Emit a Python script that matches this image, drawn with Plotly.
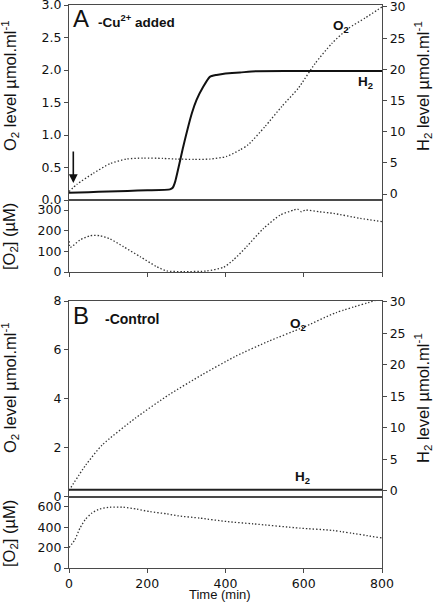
import plotly.graph_objects as go

# ---------------- data ----------------
# Panel A (-Cu2+ added), upper plot
a_o2_time = [0, 20, 62, 105, 147, 190, 240, 275, 320, 360, 403, 437, 458, 501, 544, 586, 629, 672, 714, 757, 800]
a_o2_level = [0.13, 0.24, 0.41, 0.56, 0.63, 0.645, 0.64, 0.63, 0.625, 0.63, 0.67, 0.77, 0.85, 1.13, 1.44, 1.72, 2.10, 2.41, 2.64, 2.80, 2.97]

a_h2_time = [0, 50, 100, 150, 200, 258, 265, 271, 292, 314, 326, 343, 360, 377, 400, 437, 480, 600, 700, 800]
a_h2_level = [0.2, 0.3, 0.4, 0.5, 0.6, 0.75, 1.0, 1.9, 7.6, 12.95, 15.1, 17.2, 18.8, 19.1, 19.35, 19.5, 19.7, 19.72, 19.72, 19.72]

# Panel A, lower plot: dissolved O2 (µM)
a_do_time = [0, 3, 28, 54, 79, 105, 139, 182, 224, 250, 293, 352, 395, 420, 454, 497, 540, 574, 584, 594, 604, 640, 676, 744, 800]
a_do_conc = [150, 119, 155, 176, 176, 160, 123, 74, 26, 5, 2, 5, 23, 58, 123, 211, 276, 300, 305, 292, 300, 292, 284, 260, 244]

# Panel B (-Control), upper plot
b_o2_time = [0, 43, 85, 170, 256, 341, 426, 511, 597, 682, 800]
b_o2_level = [0.25, 1.29, 2.11, 3.21, 4.17, 4.99, 5.74, 6.36, 6.91, 7.52, 8.1]

b_h2_time = [0, 200, 400, 600, 800]
b_h2_level = [0.15, 0.15, 0.15, 0.15, 0.15]

# Panel B, lower plot: dissolved O2 (µM)
b_do_time = [0, 15, 28, 41, 58, 79, 105, 139, 173, 207, 250, 280, 335, 403, 471, 591, 676, 800]
b_do_conc = [200, 277, 390, 471, 537, 578, 595, 595, 576, 552, 530, 510, 488, 455, 432, 390, 367, 293]

x_ticks = [0, 200, 400, 600, 800]
a_left_ticks = [0.0, 0.5, 1.0, 1.5, 2.0, 2.5, 3.0]
a_right_ticks = [0, 5, 10, 15, 20, 25, 30]
a_do_ticks = [0, 100, 200, 300]
b_left_ticks = [0, 2, 4, 6, 8]
b_right_ticks = [0, 5, 10, 15, 20, 25, 30]
b_do_ticks = [0, 200, 400, 600]

# ---------------- layout geometry ----------------
W, H = 435, 602
L, R, T, B = 69, 53, 5, 34
PW, PH = W - L - R, H - T - B


def px(x):
    return (x - L) / PW


def py(y):
    return (H - B - y) / PH


AXC = "#4a4a4a"
TXT = "#111111"
TICKFONT = dict(family="DejaVu Sans", size=12.5, color=TXT)
FONT = "Liberation Sans, Arial, sans-serif"
DOT = "1.4px,2px"

fig = go.Figure()

# Panel A
fig.add_trace(go.Scatter(x=a_o2_time, y=a_o2_level, mode="lines", xaxis="x", yaxis="y",
                         line=dict(color="#333", width=1.3, dash=DOT, shape="spline", smoothing=0.6)))
fig.add_trace(go.Scatter(x=a_h2_time, y=a_h2_level, mode="lines", xaxis="x", yaxis="y2",
                         line=dict(color="#111", width=2, shape="spline", smoothing=0.5)))
fig.add_trace(go.Scatter(x=a_do_time, y=a_do_conc, mode="lines", xaxis="x2", yaxis="y3",
                         line=dict(color="#333", width=1.3, dash=DOT, shape="spline", smoothing=0.6)))
# Panel B
fig.add_trace(go.Scatter(x=b_o2_time, y=b_o2_level, mode="lines", xaxis="x3", yaxis="y4",
                         line=dict(color="#333", width=1.3, dash=DOT, shape="spline", smoothing=0.6)))
fig.add_trace(go.Scatter(x=b_h2_time, y=b_h2_level, mode="lines", xaxis="x3", yaxis="y5",
                         line=dict(color="#222", width=2)))
fig.add_trace(go.Scatter(x=b_do_time, y=b_do_conc, mode="lines", xaxis="x4", yaxis="y6",
                         line=dict(color="#333", width=1.3, dash=DOT, shape="spline", smoothing=0.6)))

common_x = dict(range=[0, 800], showgrid=False, zeroline=False, showline=True, linecolor=AXC,
                linewidth=1.3, mirror=True, tickvals=x_ticks, tickfont=TICKFONT, automargin=False,
                ticklabeloverflow="allow")
common_y = dict(showgrid=False, zeroline=False, showline=True, linecolor=AXC, linewidth=1.3,
                ticks="outside", ticklen=4, tickcolor=AXC, tickfont=TICKFONT, automargin=False,
                ticklabeloverflow="allow")

dA_top = [py(200), 1.0]
dA_bot = [py(272), py(200)]
dB_top = [py(496.5), py(301)]
dB_bot = [0.0, py(496.5)]

fig.update_layout(
    width=W, height=H, margin=dict(l=L, r=R, t=T, b=B, pad=0, autoexpand=False),
    paper_bgcolor="white", plot_bgcolor="white", showlegend=False,
    font=dict(family=FONT, color=TXT),
    xaxis=dict(common_x, domain=[0, 1], anchor="y", ticks="", showticklabels=False),
    xaxis2=dict(common_x, domain=[0, 1], anchor="y3", ticks="outside", ticklen=4, tickcolor=AXC,
                showticklabels=False),
    xaxis3=dict(common_x, domain=[0, 1], anchor="y4", ticks="", showticklabels=False),
    xaxis4=dict(common_x, domain=[0, 1], anchor="y6", ticks="outside", ticklen=4, tickcolor=AXC,
                showticklabels=True),
    yaxis=dict(common_y, domain=dA_top, range=[0, 3.0], tickvals=a_left_ticks, tickformat=".1f"),
    yaxis2=dict(common_y, overlaying="y", side="right", anchor="x", range=[-0.96, 30.32],
                tickvals=a_right_ticks),
    yaxis3=dict(common_y, domain=dA_bot, range=[0, 349], tickvals=a_do_ticks, mirror=True),
    yaxis4=dict(common_y, domain=dB_top, range=[0, 8.0], tickvals=b_left_ticks),
    yaxis5=dict(common_y, overlaying="y4", side="right", anchor="x3", range=[-0.92, 30.1],
                tickvals=b_right_ticks),
    yaxis6=dict(common_y, domain=dB_bot, range=[0, 700], tickvals=b_do_ticks, mirror=True),
)

ann = []


def text(x, y, s, size, bold=False, xanchor="left", angle=0):
    ann.append(dict(xref="paper", yref="paper", x=px(x), y=py(y), text=("<b>%s</b>" % s) if bold else s,
                    showarrow=False, xanchor=xanchor, yanchor="middle", textangle=angle,
                    font=dict(family=FONT, size=size, color=TXT)))


text(81, 19, "A", 24, xanchor="center")
text(96, 21, "-Cu<sup>2+</sup> added", 13.5, bold=True)
text(331, 26, "O<sub>2</sub>", 13.5, bold=True)
text(356, 82, "H<sub>2</sub>", 13.5, bold=True)
text(81, 315, "B", 24, xanchor="center")
text(103, 319, "-Control", 14, bold=True)
text(288, 324, "O<sub>2</sub>", 13.5, bold=True)
text(293, 477, "H<sub>2</sub>", 13.5, bold=True)

text(10, 86, "O<sub>2</sub> level µmol.ml<sup>-1</sup>", 16.5, xanchor="center", angle=-90)
text(10, 237, "[O<sub>2</sub>] (µM)", 16.5, xanchor="center", angle=-90)
text(10, 388, "O<sub>2</sub> level µmol.ml<sup>-1</sup>", 16.5, xanchor="center", angle=-90)
text(10, 534, "[O<sub>2</sub>] (µM)", 16.5, xanchor="center", angle=-90)
text(423, 86, "H<sub>2</sub> level µmol.ml<sup>-1</sup>", 16.5, xanchor="center", angle=-90)
text(423, 398, "H<sub>2</sub> level µmol.ml<sup>-1</sup>", 16.5, xanchor="center", angle=-90)
text(220, 594.5, "Time (min)", 13, xanchor="center")

# arrow marking the Cu2+ addition
ann.append(dict(xref="x", yref="y", x=11, y=0.26, ax=0, ay=-33, showarrow=True, text="",
                arrowhead=2, arrowsize=1.1, arrowwidth=1.6, arrowcolor="#111"))

fig.update_layout(annotations=ann)
fig.write_html("out.html", config={"displayModeBar": False},
               post_script="document.body.style.margin='0px';document.body.style.padding='0px';")
